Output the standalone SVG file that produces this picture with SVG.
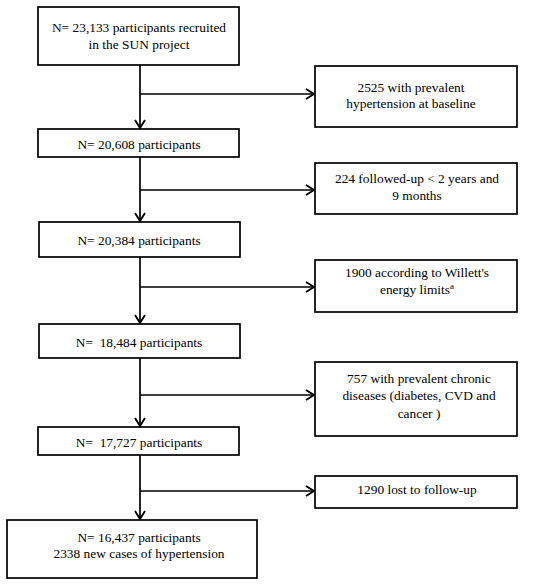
<svg xmlns="http://www.w3.org/2000/svg" width="550" height="584" viewBox="0 0 550 584">
<defs>
<marker id="arr" viewBox="0 0 12 12" refX="11" refY="6" markerWidth="12" markerHeight="12" markerUnits="userSpaceOnUse" orient="auto">
<path d="M3,1 L11,6 L3,11" fill="none" stroke="#000" stroke-width="1.9"/>
</marker>
<style>
rect{fill:#fff;stroke:#000;stroke-width:1.7}
text{font-family:'Liberation Serif','Times New Roman',serif;font-size:13.4px;fill:#000;text-anchor:middle}
.c line{stroke:#000;stroke-width:1.7}
</style>
</defs>
<rect x="0" y="0" width="550" height="584" style="stroke:none"/>
<g class="c" id="connectors">
<line x1="140" y1="65" x2="140" y2="128" marker-end="url(#arr)"/>
<line x1="140" y1="94" x2="314" y2="94" marker-end="url(#arr)"/>
<line x1="140" y1="157" x2="140" y2="221" marker-end="url(#arr)"/>
<line x1="140" y1="190" x2="314" y2="190" marker-end="url(#arr)"/>
<line x1="140" y1="257" x2="140" y2="323" marker-end="url(#arr)"/>
<line x1="140" y1="287" x2="314" y2="287" marker-end="url(#arr)"/>
<line x1="140" y1="358" x2="140" y2="426" marker-end="url(#arr)"/>
<line x1="140" y1="395" x2="314" y2="395" marker-end="url(#arr)"/>
<line x1="140" y1="455" x2="140" y2="519" marker-end="url(#arr)"/>
<line x1="140" y1="491" x2="314" y2="491" marker-end="url(#arr)"/>
</g>
<g id="n1"><rect x="38" y="7" width="201" height="58"/><text x="139" y="32">N= 23,133 participants recruited</text><text x="139" y="49">in the SUN project</text></g>
<g id="e1"><rect x="315" y="66" width="202" height="61"/><text x="411" y="92">2525 with prevalent</text><text x="411" y="108">hypertension at baseline</text></g>
<g id="n2"><rect x="38" y="129" width="201" height="28"/><text x="139" y="149">N= 20,608 participants</text></g>
<g id="e2"><rect x="315" y="163" width="202" height="51"/><text x="417" y="183">224 followed-up &lt; 2 years and</text><text x="417" y="200">9 months</text></g>
<g id="n3"><rect x="39" y="222" width="201" height="35"/><text x="139" y="245">N= 20,384 participants</text></g>
<g id="e3"><rect x="315" y="260" width="202" height="52"/><text x="417" y="277">1900 according to Willett's</text><text x="417" y="294">energy limits<tspan font-size="9" dy="-5">a</tspan></text></g>
<g id="n4"><rect x="39" y="324" width="201" height="34"/><text x="139" y="347" xml:space="preserve">N=  18,484 participants</text></g>
<g id="e4"><rect x="315" y="362" width="202" height="74"/><text x="419" y="383">757 with prevalent chronic</text><text x="419" y="400">diseases (diabetes, CVD and</text><text x="419" y="418">cancer )</text></g>
<g id="n5"><rect x="38" y="427" width="201" height="28"/><text x="139" y="447" xml:space="preserve">N=  17,727 participants</text></g>
<g id="e5"><rect x="315" y="476" width="202" height="32"/><text x="417" y="494">1290 lost to follow-up</text></g>
<g id="n6"><rect x="7" y="520" width="250" height="58"/><text x="139" y="542">N= 16,437 participants</text><text x="139" y="558">2338 new cases of hypertension</text></g>
</svg>
